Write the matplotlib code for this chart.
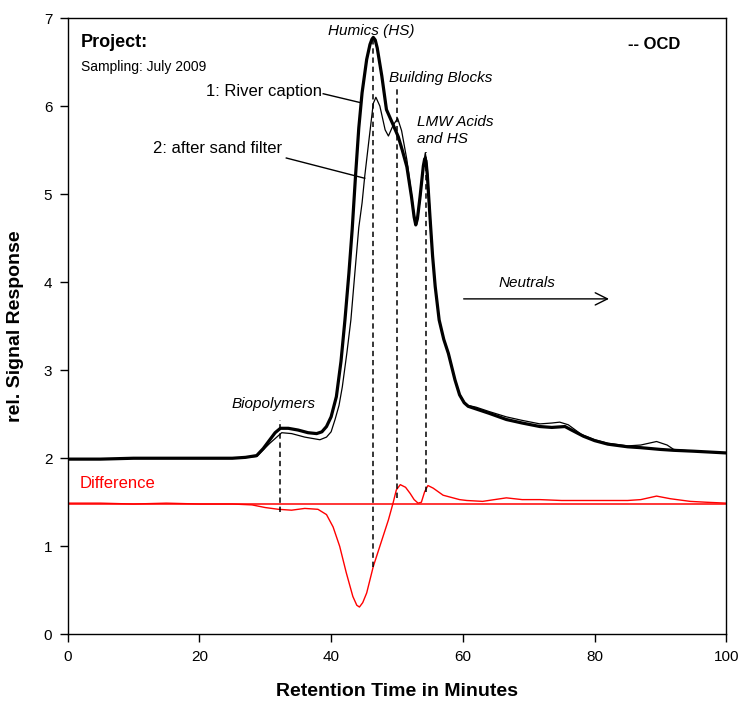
"""
LC-OCD chromatogram: river water vs. after sand filter
Recreates the OCD signal plot with the difference trace
"""

import matplotlib
matplotlib.use('Agg')  # Use non-interactive backend
import matplotlib.pyplot as plt

plt.rcParams['font.family'] = ['Liberation Sans', 'DejaVu Sans']

# --- data -----------------------------------------------------------------

# 1: River caption (thick line)
river_t = [0, 5, 10, 15, 20, 25, 27, 28.7, 29.7, 30.7, 31.5, 32.3, 33.5, 35,
           36.5, 37.8, 38.6, 39.3, 40.0, 40.8, 41.5, 42.1, 42.7, 43.2, 43.7,
           44.2, 44.7, 45.4, 45.9, 46.2, 46.4, 46.7, 47.0, 47.7, 48.4, 49.4,
           50.2, 50.8, 51.5, 52.2, 52.6, 52.85, 53.1, 53.5, 54.0, 54.2, 54.4,
           54.6, 55.0, 55.4, 55.8, 56.4, 57.1, 57.8, 58.8, 59.5, 60.2, 60.8,
           62, 64, 66.6, 69, 71.7, 73.5, 75.5, 76.5, 78.3, 80, 82, 85, 87, 90,
           92, 95, 100]
river_y = [1.99, 1.99, 2.00, 2.00, 2.00, 2.00, 2.01, 2.03, 2.11, 2.21, 2.29,
           2.34, 2.34, 2.32, 2.29, 2.28, 2.30, 2.36, 2.47, 2.70, 3.10, 3.57,
           4.10, 4.60, 5.20, 5.75, 6.15, 6.53, 6.70, 6.76, 6.78, 6.75, 6.66,
           6.34, 5.96, 5.79, 5.65, 5.50, 5.31, 4.97, 4.74, 4.65, 4.72, 4.97,
           5.32, 5.40, 5.38, 5.22, 4.75, 4.30, 3.95, 3.57, 3.35, 3.19, 2.89,
           2.72, 2.63, 2.59, 2.56, 2.51, 2.44, 2.40, 2.36, 2.35, 2.36, 2.32,
           2.25, 2.20, 2.16, 2.13, 2.12, 2.10, 2.09, 2.08, 2.06]

# 2: after sand filter (thin line)
filter_t = [0, 5, 10, 15, 20, 25, 27, 28.7, 30.7, 32.5, 34, 36, 38.3, 39.3,
            40.0, 40.6, 41.2, 41.7, 42.4, 43.0, 43.6, 44.2, 44.7, 45.1, 45.8,
            46.4, 46.8, 47.4, 48.2, 48.7, 49.4, 50.1, 50.7, 51.5, 52.2, 52.6,
            52.9, 53.2, 53.6, 54.0, 54.3, 54.6, 55.0, 55.4, 55.8, 56.4, 57.1,
            57.8, 58.8, 59.5, 60.2, 60.8, 62, 64, 66.6, 69, 71.7, 73.5, 74.7,
            76, 78, 80, 82, 85, 87, 89.4, 91, 92, 95, 100]
filter_y = [1.99, 1.99, 2.00, 2.00, 2.00, 2.00, 2.01, 2.02, 2.17, 2.29, 2.28,
            2.24, 2.21, 2.24, 2.30, 2.44, 2.60, 2.81, 3.20, 3.57, 4.10, 4.62,
            4.90, 5.20, 5.65, 6.03, 6.10, 6.00, 5.73, 5.66, 5.78, 5.86, 5.72,
            5.39, 5.00, 4.77, 4.68, 4.75, 5.00, 5.33, 5.47, 5.30, 4.80, 4.32,
            3.97, 3.58, 3.36, 3.20, 2.90, 2.73, 2.64, 2.60, 2.58, 2.53, 2.47,
            2.43, 2.39, 2.40, 2.41, 2.38, 2.27, 2.21, 2.17, 2.14, 2.15, 2.19,
            2.15, 2.10, 2.08, 2.06]

# Difference trace (red), drawn with an offset around 1.48
diff_t = [0, 5, 10, 15, 20, 25, 28, 30, 32, 34, 36, 38, 39.3, 40.3, 41.3,
          42.3, 43.3, 43.9, 44.3, 44.8, 45.4, 46.4, 47.7, 48.7, 49.4, 49.9,
          50.5, 51.3, 52.0, 52.6, 53.2, 53.7, 54.2, 54.7, 55.5, 57.0, 58.5,
          59.5, 60.6, 63, 66.6, 69, 71.7, 75, 80, 85, 87, 89.4, 91.5, 94.5,
          97, 100]
diff_y = [1.49, 1.49, 1.48, 1.49, 1.48, 1.48, 1.47, 1.44, 1.42, 1.41, 1.43,
          1.42, 1.36, 1.22, 1.00, 0.70, 0.43, 0.33, 0.31, 0.36, 0.47, 0.77,
          1.07, 1.30, 1.49, 1.64, 1.70, 1.67, 1.60, 1.53, 1.49, 1.50, 1.62,
          1.69, 1.66, 1.58, 1.55, 1.53, 1.52, 1.51, 1.55, 1.53, 1.53, 1.52,
          1.52, 1.52, 1.53, 1.57, 1.54, 1.51, 1.50, 1.49]
diff_zero = 1.48

# Fraction markers: (time, top, bottom)
fraction_t = [32.2, 46.4, 50.0, 54.35]
fraction_top = [2.43, 6.75, 6.20, 5.48]
fraction_bottom = [1.39, 0.77, 1.55, 1.62]


def plot_chromatogram(save_path='out.png'):
    """Draw both OCD traces, the difference and the fraction labels."""
    fig = plt.figure(figsize=(7.41, 7.07), dpi=100)
    ax = fig.add_axes([0.0912, 0.1028, 0.8891, 0.8717])

    # traces
    ax.plot(filter_t, filter_y, color='black', linewidth=0.9)
    ax.plot(river_t, river_y, color='black', linewidth=2.3,
            solid_joinstyle='round')
    ax.axhline(diff_zero, color='red', linewidth=1.1)
    ax.plot(diff_t, diff_y, color='red', linewidth=1.0)

    # dashed fraction markers
    for t, top, bot in zip(fraction_t, fraction_top, fraction_bottom):
        ax.plot([t, t], [bot, top], color='black', linewidth=1.1,
                linestyle=(0, (3.5, 2.5)))

    # fraction names
    ax.text(46.1, 6.85, 'Humics (HS)', fontsize=11, style='italic',
            ha='center', va='center')
    ax.text(48.8, 6.32, 'Building Blocks', fontsize=11, style='italic',
            ha='left', va='center')
    ax.text(53.0, 5.72, 'LMW Acids\nand HS', fontsize=11, style='italic',
            ha='left', va='center', linespacing=1.25)
    ax.text(31.3, 2.62, 'Biopolymers', fontsize=11, style='italic',
            ha='center', va='center')
    ax.text(69.7, 3.99, 'Neutrals', fontsize=11, style='italic',
            ha='center', va='center')
    ax.annotate('', xy=(82.6, 3.81), xytext=(59.7, 3.81),
                arrowprops=dict(arrowstyle='->', color='black', lw=1.0,
                                mutation_scale=22))

    # header text
    ax.text(2.0, 6.72, 'Project:', fontsize=13, fontweight='bold',
            ha='left', va='center')
    ax.text(2.0, 6.44, 'Sampling: July 2009', fontsize=10,
            ha='left', va='center')
    ax.text(89.1, 6.70, '-- OCD', fontsize=12, fontweight='bold',
            ha='center', va='center')
    ax.text(1.9, 1.71, 'Difference', fontsize=12, color='red',
            ha='left', va='center')

    # sample captions with leader lines
    ax.text(38.6, 6.17, '1: River caption', fontsize=12,
            ha='right', va='center')
    ax.plot([38.8, 44.4], [6.14, 6.04], color='black', linewidth=1.0)
    ax.text(32.6, 5.52, '2: after sand filter', fontsize=12,
            ha='right', va='center')
    ax.plot([33.2, 45.1], [5.41, 5.18], color='black', linewidth=1.0)

    # axes styling
    ax.set_xlim(0, 100)
    ax.set_ylim(0, 7)
    ax.set_xticks(range(0, 101, 20))
    ax.set_yticks(range(0, 8))
    ax.tick_params(direction='out', length=6, width=1.0, labelsize=11,
                   pad=5)
    for spine in ax.spines.values():
        spine.set_linewidth(1.0)
    ax.set_xlabel('Retention Time in Minutes', fontsize=14,
                  fontweight='bold', labelpad=14)
    ax.set_ylabel('rel. Signal Response', fontsize=14,
                  fontweight='bold', labelpad=14)

    fig.savefig(save_path, dpi=100)
    plt.close(fig)


if __name__ == "__main__":
    plot_chromatogram()
